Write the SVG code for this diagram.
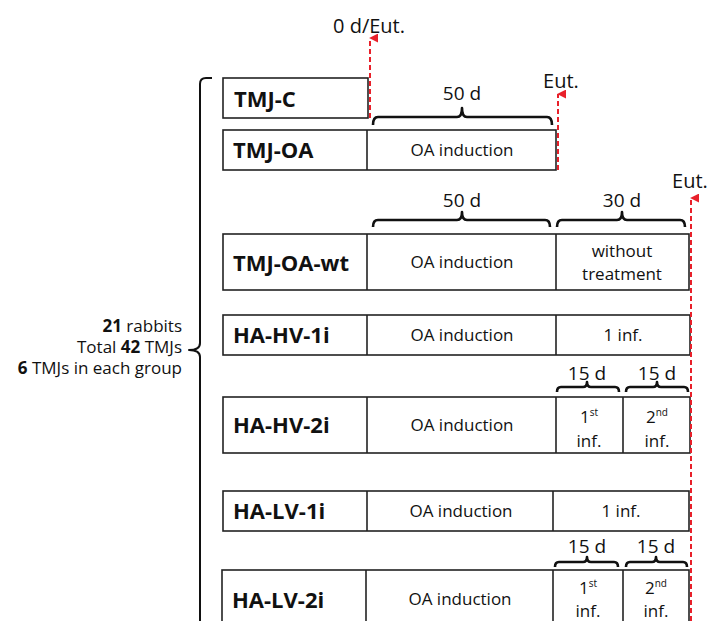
<svg xmlns="http://www.w3.org/2000/svg" width="708" height="621" viewBox="0 0 708 621">
<defs>
<marker id="ah" viewBox="0 0 10 10" refX="5" refY="1" markerWidth="9" markerHeight="9" markerUnits="userSpaceOnUse" orient="auto-start-reverse">
<path d="M0,10 L5,0 L10,10 Z" fill="#e8202a"/>
</marker>
<style>
text{font-family:"Open Sans","Liberation Sans",sans-serif;fill:#111}
.lbl{font-size:22px;font-weight:bold}
.t{font-size:17px;text-anchor:middle}
.d{font-size:19px;text-anchor:middle}
.side{font-size:17px;text-anchor:end}
.box{fill:#fff;stroke:#222;stroke-width:1.6}
.div{stroke:#222;stroke-width:1.6}
.br{fill:none;stroke:#111;stroke-width:2.6;stroke-linejoin:round}
.red{stroke:#e8202a;stroke-width:2;stroke-dasharray:5,3;fill:none}
.sup{font-size:10px}
</style>
</defs>
<rect width="708" height="621" fill="#fff"/>

<g id="left-brace">
<path class="br" style="stroke-width:2" d="M212,78 L206,78 Q200,78 200,84 L200,343 Q200,350 189,350 Q200,350 200,357 L200,630"/>
<text class="side" x="182" y="332"><tspan font-weight="bold">21</tspan> rabbits</text>
<text class="side" x="182" y="353">Total <tspan font-weight="bold">42</tspan> TMJs</text>
<text class="side" x="182" y="374"><tspan font-weight="bold">6</tspan> TMJs in each group</text>
</g>

<g id="tmj-c">
<rect class="box" x="223" y="78" width="145" height="40"/>
<text class="lbl" x="234" y="107">TMJ-C</text>
</g>

<g id="tmj-oa">
<rect class="box" x="223" y="130" width="333" height="40"/>
<line class="div" x1="367" y1="130" x2="367" y2="170"/>
<text class="lbl" x="233" y="158">TMJ-OA</text>
<text class="t" x="462" y="156">OA induction</text>
</g>

<g id="tmj-oa-wt">
<rect class="box" x="223" y="234" width="466" height="56"/>
<line class="div" x1="367" y1="234" x2="367" y2="290"/>
<line class="div" x1="556" y1="234" x2="556" y2="290"/>
<text class="lbl" x="233" y="271">TMJ-OA-wt</text>
<text class="t" x="462" y="268">OA induction</text>
<text class="t" x="622" y="257">without</text>
<text class="t" x="622" y="280">treatment</text>
</g>

<g id="ha-hv-1i">
<rect class="box" x="223" y="315" width="467" height="40"/>
<line class="div" x1="367" y1="315" x2="367" y2="355"/>
<line class="div" x1="556" y1="315" x2="556" y2="355"/>
<text class="lbl" x="233" y="343">HA-HV-1i</text>
<text class="t" x="462" y="341">OA induction</text>
<text class="t" x="623" y="341">1 inf.</text>
</g>

<g id="ha-hv-2i">
<rect class="box" x="223" y="397" width="467" height="56"/>
<line class="div" x1="367" y1="397" x2="367" y2="453"/>
<line class="div" x1="556" y1="397" x2="556" y2="453"/>
<line class="div" x1="623" y1="397" x2="623" y2="453"/>
<text class="lbl" x="233" y="433">HA-HV-2i</text>
<text class="t" x="462" y="431">OA induction</text>
<text class="t" x="589" y="423">1<tspan class="sup" dy="-7">st</tspan></text>
<text class="t" x="589" y="447">inf.</text>
<text class="t" x="657" y="423">2<tspan class="sup" dy="-7">nd</tspan></text>
<text class="t" x="657" y="447">inf.</text>
</g>

<g id="ha-lv-1i">
<rect class="box" x="223" y="491" width="466" height="40"/>
<line class="div" x1="367" y1="491" x2="367" y2="531"/>
<line class="div" x1="553" y1="491" x2="553" y2="531"/>
<text class="lbl" x="233" y="519">HA-LV-1i</text>
<text class="t" x="461" y="517">OA induction</text>
<text class="t" x="621" y="517">1 inf.</text>
</g>

<g id="ha-lv-2i">
<rect class="box" x="222" y="570" width="467" height="70"/>
<line class="div" x1="366" y1="570" x2="366" y2="640"/>
<line class="div" x1="553" y1="570" x2="553" y2="640"/>
<line class="div" x1="623" y1="570" x2="623" y2="640"/>
<text class="lbl" x="232" y="608">HA-LV-2i</text>
<text class="t" x="460" y="605">OA induction</text>
<text class="t" x="588" y="594">1<tspan class="sup" dy="-7">st</tspan></text>
<text class="t" x="588" y="617">inf.</text>
<text class="t" x="656" y="594">2<tspan class="sup" dy="-7">nd</tspan></text>
<text class="t" x="656" y="617">inf.</text>
</g>

<g id="braces">
<path class="br" d="M373,125 Q373,117 378,117 L457,117 Q462,117 462,108 Q462,117 467,117 L547,117 Q552,117 552,125"/>
<text class="d" x="462" y="100">50 d</text>
<path class="br" d="M373,227 Q373,220 378,220 L457,220 Q462,220 462,212 Q462,220 467,220 L545,220 Q550,220 550,227"/>
<text class="d" x="462" y="207">50 d</text>
<path class="br" d="M557,227 Q557,220 562,220 L617,220 Q622,220 622,212 Q622,220 627,220 L680,220 Q685,220 685,227"/>
<text class="d" x="622" y="207">30 d</text>
<path class="br" d="M557,392 Q557,387 561,387 L583,387 Q587,387 587,382 Q587,387 591,387 L615,387 Q619,387 619,392"/>
<text class="d" x="587" y="380">15 d</text>
<path class="br" d="M626,392 Q626,387 630,387 L653,387 Q657,387 657,382 Q657,387 661,387 L684,387 Q688,387 688,392"/>
<text class="d" x="657" y="380">15 d</text>
<path class="br" d="M555,567 Q555,562 559,562 L583,562 Q587,562 587,557 Q587,562 591,562 L614,562 Q618,562 618,567"/>
<text class="d" x="587" y="553">15 d</text>
<path class="br" d="M626,567 Q626,562 630,562 L652,562 Q656,562 656,557 Q656,562 660,562 L683,562 Q687,562 687,567"/>
<text class="d" x="656" y="553">15 d</text>
</g>

<g id="connectors">
<line class="red" x1="370" y1="118" x2="370" y2="38" marker-end="url(#ah)"/>
<line class="red" x1="558" y1="170" x2="558" y2="94" marker-end="url(#ah)"/>
<line class="red" x1="691" y1="621" x2="691" y2="198" marker-end="url(#ah)"/>
<text class="d" style="font-size:20px" x="369" y="33">0 d/Eut.</text>
<text class="d" style="font-size:20px" x="561" y="88">Eut.</text>
<text class="d" style="font-size:20px" x="690" y="188">Eut.</text>
</g>
</svg>
